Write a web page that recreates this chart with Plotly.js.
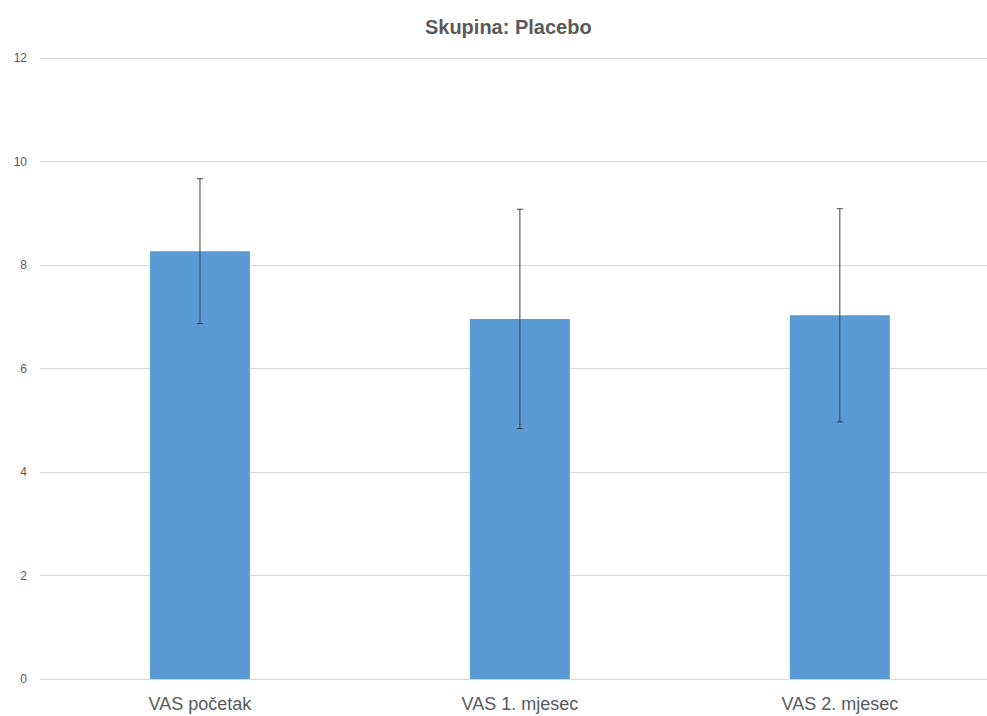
<!DOCTYPE html>
<html>
<head>
<meta charset="utf-8">
<script src="https://cdn.plot.ly/plotly-3.0.1.min.js"></script>
<style>html,body{margin:0;padding:0;background:#fff;}#chart{width:987px;height:716px;}</style>
</head>
<body>
<div id="chart"></div>
<script>
const categories = ["VAS početak", "VAS 1. mjesec", "VAS 2. mjesec"];
const means = [8.27, 6.96, 7.03];
const errors = [1.40, 2.12, 2.06];
const yTicks = [0, 2, 4, 6, 8, 10, 12];

const font = "'Liberation Sans', Arial, sans-serif";

Plotly.newPlot("chart", [{
  type: "bar",
  x: categories,
  y: means,
  width: 0.3125,
  marker: {color: "#5B9BD5"},
  error_y: {type: "data", array: errors, visible: true, color: "#404040", thickness: 1, width: 3}
}], {
  width: 987, height: 716,
  margin: {l: 40, r: 0, t: 53, b: 37},
  paper_bgcolor: "#fff", plot_bgcolor: "#fff",
  showlegend: false,
  title: {text: "<b>Skupina: Placebo</b>", x: 0.515, xanchor: "center", y: 0.962, yanchor: "middle",
          font: {family: font, size: 20, color: "#595959"}},
  xaxis: {type: "category", range: [-0.5, 2.46], showgrid: false, showline: true, linecolor: "#d9d9d9",
          linewidth: 1, ticks: "", ticklabelstandoff: 8, tickfont: {family: font, size: 18, color: "#595959"}, fixedrange: true},
  yaxis: {range: [0, 12.1], tickvals: yTicks, ticktext: yTicks.map(String), showgrid: true, gridcolor: "#d9d9d9",
          zeroline: true, zerolinecolor: "#d9d9d9", showline: false, ticks: "", ticklabelstandoff: 12,
          tickfont: {family: font, size: 12, color: "#595959"}, fixedrange: true}
}, {displayModeBar: false, staticPlot: true});
</script>
</body>
</html>
